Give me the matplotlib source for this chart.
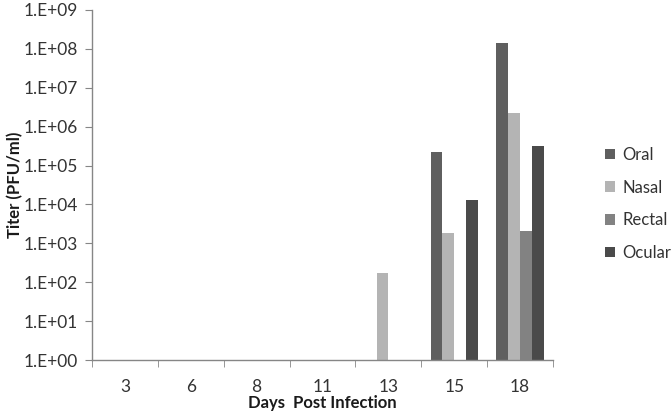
import matplotlib
matplotlib.use("Agg")
import matplotlib.pyplot as plt
import numpy as np
from matplotlib.ticker import FixedLocator, NullLocator, FuncFormatter

days = ["3", "6", "8", "11", "13", "15", "18"]
series_names = ["Oral", "Nasal", "Rectal", "Ocular"]
oral = [np.nan, np.nan, np.nan, np.nan, np.nan, 2.2e5, 1.4e8]
nasal = [np.nan, np.nan, np.nan, np.nan, 1.7e2, 1.8e3, 2.2e6]
rectal = [np.nan, np.nan, np.nan, np.nan, np.nan, np.nan, 2.1e3]
ocular = [np.nan, np.nan, np.nan, np.nan, np.nan, 1.3e4, 3.2e5]
colors = ["#5f5f5f", "#b4b4b4", "#828282", "#4a4a4a"]

plt.rcParams['font.family'] = ['Lato', 'DejaVu Sans']
fig = plt.figure(figsize=(6.72, 4.15), dpi=100)
ax = fig.add_axes([92/672, 55/415, (553-92)/672, 350/415])

x = np.arange(len(days))
bw = 0.18
for i, (name, vals, c) in enumerate(zip(series_names, [oral, nasal, rectal, ocular], colors)):
    v = np.array(vals, dtype=float)
    ax.bar(x + (i - 1.5) * bw, v - 1, bottom=1, width=bw, color=c, label=name)

ax.set_yscale('log')
ax.set_ylim(1, 1e9)
ax.set_xlim(-0.5, len(days) - 0.5)
ax.yaxis.set_major_locator(FixedLocator([10.0**k for k in range(10)]))
ax.yaxis.set_minor_locator(NullLocator())
ax.yaxis.set_major_formatter(FuncFormatter(lambda v, p: "1.E+%02d" % int(round(np.log10(v)))))

ax.set_xticks(x)
ax.set_xticklabels(days)
ax.tick_params(axis='x', which='major', length=0, pad=14)
ax.set_xticks(np.arange(len(days) + 1) - 0.5, minor=True)
ax.tick_params(axis='x', which='minor', length=5, color='#868686', direction='out')
ax.tick_params(axis='y', length=5, color='#868686', direction='out', pad=5)
ax.tick_params(labelsize=12.5, labelcolor='#333333')

for s in ['top', 'right']:
    ax.spines[s].set_visible(False)
for s in ['left', 'bottom']:
    ax.spines[s].set_color('#868686')
    ax.spines[s].set_linewidth(1.0)

ax.set_ylabel("Titer (PFU/ml)", fontsize=12, fontweight='bold', labelpad=0, color='#1a1a1a')
ax.set_xlabel("Days  Post Infection", fontsize=12, fontweight='bold', labelpad=0, color='#1a1a1a')

leg = fig.legend(loc='center left', bbox_to_anchor=(605/672, 1 - 204/415), frameon=False,
                 fontsize=12, handlelength=0.6, handleheight=0.6, handletextpad=0.45,
                 labelspacing=1.0, borderaxespad=0, borderpad=0)
for t in leg.get_texts():
    t.set_color('#333333')

fig.savefig("out.png", dpi=100)
